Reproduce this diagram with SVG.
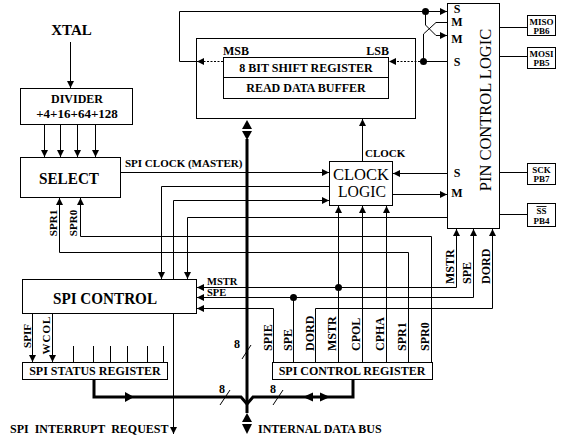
<svg xmlns="http://www.w3.org/2000/svg" width="571" height="438" viewBox="0 0 571 438">
<defs>
<marker id="ah" markerUnits="userSpaceOnUse" markerWidth="8" markerHeight="8" refX="7" refY="4" orient="auto">
<path d="M0,0.5 L7,4 L0,7.5 Z" fill="#000"/>
</marker>
<style>
text{font-family:"Liberation Serif","Times New Roman",serif;fill:#000}
.b{font-weight:bold}
.s12{font-size:12px;font-weight:bold}
.s11{font-size:11px;font-weight:bold}
.s9{font-size:9px;font-weight:bold}
.m{text-anchor:middle}
.e{text-anchor:end}
.box{fill:#fff;stroke:#000;stroke-width:1}
.ln{fill:none;stroke:#000;stroke-width:1}
.ar{marker-end:url(#ah)}
.dash{stroke-dasharray:2,1.5}
.bus{fill:none;stroke:#000;stroke-width:3}
.fill{fill:#000;stroke:none}
</style>
</defs>
<rect width="571" height="438" fill="#fff"/>

<g id="connectors">
<path class="ln ar" d="M70.5,42 V88"/>
<path class="ln ar" d="M44.5,125 V157"/>
<path class="ln ar" d="M60.5,125 V157"/>
<path class="ln ar" d="M77.5,125 V157"/>
<path class="ln ar" d="M95.5,125 V157"/>
<path class="ln ar" d="M121,172.5 H329"/>
<path class="ln ar" d="M329,186.5 H161.5 V279"/>
<path class="ln ar" d="M173.5,279 V200.5 H329"/>
<path class="ln ar" d="M447,217.5 H187.5 V279"/>
<path class="ln ar" d="M431.5,362 V236.5 H80.5 V198"/>
<path class="ln ar" d="M408.5,362 V252.5 H59.5 V198"/>
<path class="ln ar" d="M338.5,362 V206"/>
<path class="ln ar" d="M338.5,287.5 H456.5 V229"/>
<path class="ln ar" d="M338.5,287.5 H197"/>
<path class="ln" d="M293.5,362 V297.5"/>
<path class="ln ar" d="M293.5,297.5 H473.5 V229"/>
<path class="ln ar" d="M293.5,297.5 H197"/>
<path class="ln ar" d="M315.5,362 V308.5 H492.5 V229"/>
<path class="ln ar" d="M273.5,362 V308.5 H197"/>
<path class="ln ar" d="M362.5,362 V206"/>
<path class="ln ar" d="M386.5,362 V206"/>
<path class="ln ar" d="M32.5,314 V362"/>
<path class="ln ar" d="M52.5,314 V362"/>
<path class="ln" d="M73.5,346 V362 M93.5,346 V362 M110.5,346 V362 M127.5,346 V362 M147.5,346 V362 M163.5,346 V362"/>
<path class="ln ar" d="M173.5,314 V434"/>
<path class="ln ar" d="M362.5,161 V119"/>
<path class="ln ar" d="M447,173.5 H393"/>
<path class="ln ar" d="M393,194.5 H447"/>
<path class="ln dash ar" d="M223,61.5 H197"/>
<path class="ln ar" d="M196,61.5 H179.5 V11.5 H447"/>
<path class="ln" d="M447,61.5 H423.5"/>
<path class="ln dash ar" d="M423.5,61.5 H389"/>
<path class="ln ar" d="M425.5,11.5 V25 L436,35.5 H447"/>
<path class="ln" d="M447,22.5 H436 L423.5,34 V61.5"/>
<path class="ln" d="M500,27.5 H527 M500,56.5 H527 M500,172.5 H527 M500,214.5 H527"/>
<circle class="fill" cx="425.5" cy="11.5" r="3.5"/>
<circle class="fill" cx="423.5" cy="61.5" r="3.5"/>
<circle class="fill" cx="338.5" cy="287.5" r="3.5"/>
<circle class="fill" cx="293.5" cy="297.5" r="3.5"/>
<!-- bus -->
<path class="bus" d="M247,139 V413"/>
<path class="bus" d="M94,380 V397 H241 L247,404 L253,397 H353 V380"/>
<polygon class="fill" points="247,120 242,129 252,129"/>
<polygon class="fill" points="242,131 252,131 247,140"/>
<polygon class="fill" points="247,413 242,422 252,422"/>
<polygon class="fill" points="242,424 252,424 247,434"/>
<polygon class="fill" points="125,392 134,397 125,402"/>
<polygon class="fill" points="313,392.5 303,397 313,401.5"/>
<polygon class="fill" points="320,392.5 330,397 320,401.5"/>
<path class="ln" d="M242,359 L251,345 M220,405 L230,390 M273,405 L283,390"/>
<text class="s12 m" x="237" y="348">8</text>
<text class="s12 m" x="222" y="393">8</text>
<text class="s12 m" x="273" y="393">8</text>
<text class="s11" x="125" y="167">SPI CLOCK (MASTER)</text>
<text class="s11" x="365" y="157">CLOCK</text>
<text class="b" style="font-size:10.5px" x="207" y="285">MSTR</text>
<text class="b" style="font-size:10.5px" x="207" y="296">SPE</text>
<text class="s11" transform="translate(57,223) rotate(-90)" text-anchor="middle">SPR1</text>
<text class="s11" transform="translate(77,223) rotate(-90)" text-anchor="middle">SPR0</text>
<text class="s11" transform="translate(31,336) rotate(-90)" text-anchor="middle">SPIF</text>
<text class="s11" transform="translate(50,335) rotate(-90)" text-anchor="middle" letter-spacing="1">WCOL</text>
<text class="s12" transform="translate(272,351) rotate(-90)">SPIE</text>
<text class="s12" transform="translate(292,351) rotate(-90)">SPE</text>
<text class="s12" transform="translate(314,351) rotate(-90)">DORD</text>
<text class="s12" transform="translate(336,351) rotate(-90)">MSTR</text>
<text class="s12" transform="translate(360,351) rotate(-90)">CPOL</text>
<text class="s12" transform="translate(384,351) rotate(-90)">CPHA</text>
<text class="s12" transform="translate(406,351) rotate(-90)">SPR1</text>
<text class="s12" transform="translate(429,351) rotate(-90)">SPR0</text>
<text class="s12" transform="translate(454,284) rotate(-90)">MSTR</text>
<text class="s12" transform="translate(471,284) rotate(-90)">SPE</text>
<text class="s12" transform="translate(490,284) rotate(-90)">DORD</text>
<text class="s12" x="10" y="433" word-spacing="3">SPI INTERRUPT REQUEST</text>
<text class="s12" x="258" y="433">INTERNAL DATA BUS</text>
</g>

<g id="xtal">
<text class="b m" style="font-size:15px" x="71.5" y="35">XTAL</text>
</g>

<g id="divider">
<rect class="box" x="20.5" y="88.5" width="112" height="36"/>
<text class="s12 m" x="77" y="103">DIVIDER</text>
<text class="b m" style="font-size:13px" x="77" y="118">+4+16+64+128</text>
</g>

<g id="select">
<rect class="box" x="20.5" y="157.5" width="100" height="40"/>
<text class="b m" style="font-size:17px" x="69" y="184" textLength="60" lengthAdjust="spacingAndGlyphs">SELECT</text>
</g>

<g id="spi-control">
<rect class="box" x="22.5" y="279.5" width="174" height="34"/>
<text class="b m" style="font-size:17px" x="105" y="304" textLength="104" lengthAdjust="spacingAndGlyphs">SPI CONTROL</text>
</g>

<g id="spi-status-register">
<rect class="box" x="22.5" y="362.5" width="145" height="17"/>
<text class="s12 m" x="95" y="375">SPI STATUS REGISTER</text>
</g>

<g id="spi-control-register">
<rect class="box" x="272.5" y="362.5" width="160" height="17"/>
<text class="s12 m" x="352" y="375">SPI CONTROL REGISTER</text>
</g>

<g id="clock-logic">
<rect class="box" x="329.5" y="161.5" width="63" height="44"/>
<text class="m" style="font-size:16px" x="361" y="180" textLength="56" lengthAdjust="spacingAndGlyphs">CLOCK</text>
<text class="m" style="font-size:16px" x="362" y="197" textLength="48" lengthAdjust="spacingAndGlyphs">LOGIC</text>
</g>

<g id="shift-register">
<rect class="box" style="fill:none" x="196.5" y="38.5" width="219" height="80"/>
<rect class="box" x="223.5" y="57.5" width="165" height="41"/>
<path class="ln" d="M223.5,77.5 H388.5"/>
<text class="s12 m" x="306" y="72">8 BIT SHIFT REGISTER</text>
<text class="s12 m" x="306" y="92">READ DATA BUFFER</text>
<text class="s12" x="223" y="55">MSB</text>
<text class="s12 e" x="389" y="55">LSB</text>
</g>

<g id="pin-control-logic">
<rect class="box" x="447.5" y="3.5" width="52" height="225"/>
<text class="m" style="font-size:16.5px" transform="translate(491,110) rotate(-90)">PIN CONTROL LOGIC</text>
<text class="s12 m" x="457" y="13">S</text>
<text class="s12 m" x="457" y="26">M</text>
<text class="s12 m" x="457" y="43">M</text>
<text class="s12 m" x="457" y="66">S</text>
<text class="s12 m" x="457" y="177">S</text>
<text class="s12 m" x="457" y="197">M</text>
</g>

<g id="miso">
<rect class="box" x="527.5" y="15.5" width="28" height="20"/>
<text class="s9 m" x="541.5" y="25">MISO</text>
<text class="s9 m" x="541.5" y="34">PB6</text>
</g>
<g id="mosi">
<rect class="box" x="527.5" y="47.5" width="28" height="21"/>
<text class="s9 m" x="541.5" y="57">MOSI</text>
<text class="s9 m" x="541.5" y="66">PB5</text>
</g>
<g id="sck">
<rect class="box" x="527.5" y="163.5" width="28" height="21"/>
<text class="s9 m" x="541.5" y="173">SCK</text>
<text class="s9 m" x="541.5" y="182">PB7</text>
</g>
<g id="ss">
<rect class="box" x="527.5" y="203.5" width="28" height="23"/>
<text class="s9 m" x="541.5" y="214" text-decoration="overline">SS</text>
<text class="s9 m" x="541.5" y="224">PB4</text>
</g>
</svg>
